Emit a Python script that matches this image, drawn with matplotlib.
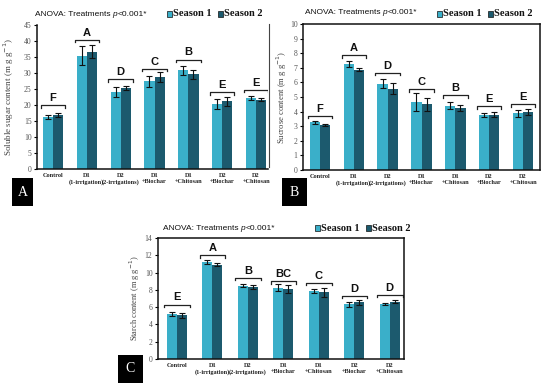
import matplotlib.pyplot as plt
import numpy as np
from matplotlib.patches import Rectangle
from matplotlib.lines import Line2D

W, H = 550, 391

treatments = ["Control", "D1\n(1-irrigation)", "D2\n(2-irrigations)", "D1\n+Biochar",
              "D1\n+Chitosan", "D2\n+Biochar", "D2\n+Chitosan"]

# panel A - soluble sugar
sugar_s1 = [16.3, 35.4, 24.0, 27.4, 30.8, 20.3, 22.3]
sugar_s2 = [16.8, 36.7, 25.2, 28.8, 29.6, 21.1, 21.7]
sugar_err1 = [0.6, 3.0, 1.6, 1.8, 1.4, 1.7, 0.6]
sugar_err2 = [0.7, 1.9, 0.6, 1.5, 1.4, 1.3, 0.6]
sugar_letters = ["F", "A", "D", "C", "B", "E", "E"]
sugar_bracket = [20.0, 40.4, 28.1, 31.3, 34.2, 24.0, 24.8]

# panel B - sucrose
sucrose_s1 = [3.26, 7.27, 5.9, 4.67, 4.4, 3.78, 3.87]
sucrose_s2 = [3.08, 6.88, 5.58, 4.51, 4.26, 3.78, 3.96]
sucrose_err1 = [0.08, 0.2, 0.3, 0.6, 0.25, 0.15, 0.25]
sucrose_err2 = [0.08, 0.1, 0.35, 0.45, 0.2, 0.18, 0.22]
sucrose_letters = ["F", "A", "D", "C", "B", "E", "E"]
sucrose_bracket = [3.7, 7.86, 6.67, 5.53, 5.13, 4.35, 4.5]

# panel C - starch
starch_s1 = [5.2, 11.24, 8.49, 8.22, 7.83, 6.32, 6.4]
starch_s2 = [5.04, 10.93, 8.3, 8.1, 7.7, 6.55, 6.63]
starch_err1 = [0.2, 0.25, 0.15, 0.4, 0.25, 0.3, 0.1]
starch_err2 = [0.3, 0.15, 0.25, 0.5, 0.5, 0.25, 0.2]
starch_letters = ["E", "A", "B", "BC", "C", "D", "D"]
starch_bracket = [6.3, 12.0, 9.4, 9.0, 8.8, 7.3, 7.45]

c1 = "#3aafc9"
c2 = "#1c5a6e"
serif = "Liberation Serif"
sans = "Liberation Sans"

fig = plt.figure(figsize=(W / 100, H / 100), dpi=100)
renderer = fig.canvas.get_renderer()


def px_axes(l, t, r, b):
    return fig.add_axes([l / W, 1 - b / H, (r - l) / W, (b - t) / H])


def panel(ax, s1, s2, e1, e2, letters, brk, ymax, ystep, xlim, bw, ylabel, lsize, lx, box):
    x = np.arange(len(treatments))
    ax.bar(x - bw / 2, s1, bw, color=c1, edgecolor=c1, linewidth=0)
    ax.bar(x + bw / 2, s2, bw, color=c2, edgecolor=c2, linewidth=0)
    ax.errorbar(x - bw / 2, s1, yerr=e1, fmt="none", ecolor="#111", elinewidth=0.8, capsize=2, capthick=0.8)
    ax.errorbar(x + bw / 2, s2, yerr=e2, fmt="none", ecolor="#111", elinewidth=0.8, capsize=2, capthick=0.8)
    ax.set_ylim(0, ymax)
    ax.set_xlim(*xlim)
    hpx = ax.get_window_extent().height
    d = ymax * 2.5 / hpx
    for xi, yb, lt in zip(x, brk, letters):
        ax.plot([xi - 0.36, xi - 0.36, xi + 0.36, xi + 0.36], [yb - d, yb, yb, yb - d], color="#222", lw=0.9)
        ax.annotate(lt, (xi, yb), xytext=(0, 1.5), textcoords="offset points", ha="center", va="bottom",
                    fontsize=8, fontweight="bold", family=sans, color="#111")
    ax.set_yticks(np.arange(0, ymax + ystep / 2, ystep))
    ax.set_xticks(x)
    ax.set_xticklabels(treatments, fontsize=4.5, fontweight="bold", family=serif, color="#222", linespacing=1.15)
    ax.tick_params(axis="x", length=0, pad=3)
    ax.tick_params(axis="y", length=2, width=0.8, labelsize=5.5, labelcolor="#555", pad=2)
    for lab in ax.get_yticklabels():
        lab.set_family(serif)
    ax.set_ylabel(ylabel, fontsize=lsize, family=serif, color="#444")
    ax.yaxis.set_label_coords(lx, 0.5)
    for sp in ax.spines.values():
        sp.set_linewidth(1.1)
        sp.set_color("#111")
    # panel letter box
    bl, bt, br, bb, txt = box
    fig.patches.append(Rectangle((bl / W, 1 - bb / H), (br - bl) / W, (bb - bt) / H,
                                 transform=fig.transFigure, facecolor="black", edgecolor="none"))
    fig.text((bl + br) / 2 / W, 1 - (bt + bb) / 2 / H, txt, color="white", fontsize=10,
             family=serif, ha="center", va="center")


def header(tx, ty, lx, ly):
    ft = dict(fontsize=6, family=sans, color="#111")
    t = fig.text(tx / W, 1 - ty / H, "ANOVA: Treatments", va="center", ha="left", **ft)
    x = t.get_window_extent(renderer).x1 + 2.2
    t = fig.text(x / W, 1 - ty / H, "p", va="center", ha="left", style="italic", **ft)
    x = t.get_window_extent(renderer).x1 + 0.3
    fig.text(x / W, 1 - ty / H, "<0.001*", va="center", ha="left", **ft)
    x = lx
    for col, lab in [(c1, "Season 1"), (c2, "Season 2")]:
        fig.patches.append(Rectangle((x / W, 1 - (ly + 3) / H), 5 / W, 6 / H, transform=fig.transFigure,
                                     facecolor=col, edgecolor="#111", linewidth=0.5))
        t = fig.text((x + 6) / W, 1 - ly / H, lab, va="center", ha="left", fontsize=7.5,
                     fontweight="bold", family=serif, color="#111")
        x = t.get_window_extent(renderer).x1 + 6


axA = px_axes(37, 25, 268, 169)
panel(axA, sugar_s1, sugar_s2, sugar_err1, sugar_err2, sugar_letters, sugar_bracket, 45, 5,
      (-0.47, 6.35), 0.3, "Soluble sugar content (m g g$^{-1}$)", 6.5, -0.093, (12, 178, 33, 206, "A"))
axA.spines["top"].set_visible(False)
axA.spines["right"].set_visible(False)
header(35, 15, 167, 14)

axB = px_axes(303, 24, 540, 170)
panel(axB, sucrose_s1, sucrose_s2, sucrose_err1, sucrose_err2, sucrose_letters, sucrose_bracket, 10, 1,
      (-0.5, 6.5), 0.3, "Sucrose content (m g g$^{-1}$)", 6.2, -0.059, (282, 178, 307, 206, "B"))
header(305, 13, 437, 14)

axC = px_axes(158, 238, 404, 359)
panel(axC, starch_s1, starch_s2, starch_err1, starch_err2, starch_letters, starch_bracket, 14, 2,
      (-0.53, 6.4), 0.28, "Starch content (m g g$^{-1}$)", 6, -0.065, (118, 355, 143, 383, "C"))
header(163, 228, 315, 228)

fig.add_artist(Line2D([269 / W, 269 / W], [1 - 167 / H, 1 - 24 / H], color="#444", lw=0.8))

fig.savefig("out.png", dpi=100)
